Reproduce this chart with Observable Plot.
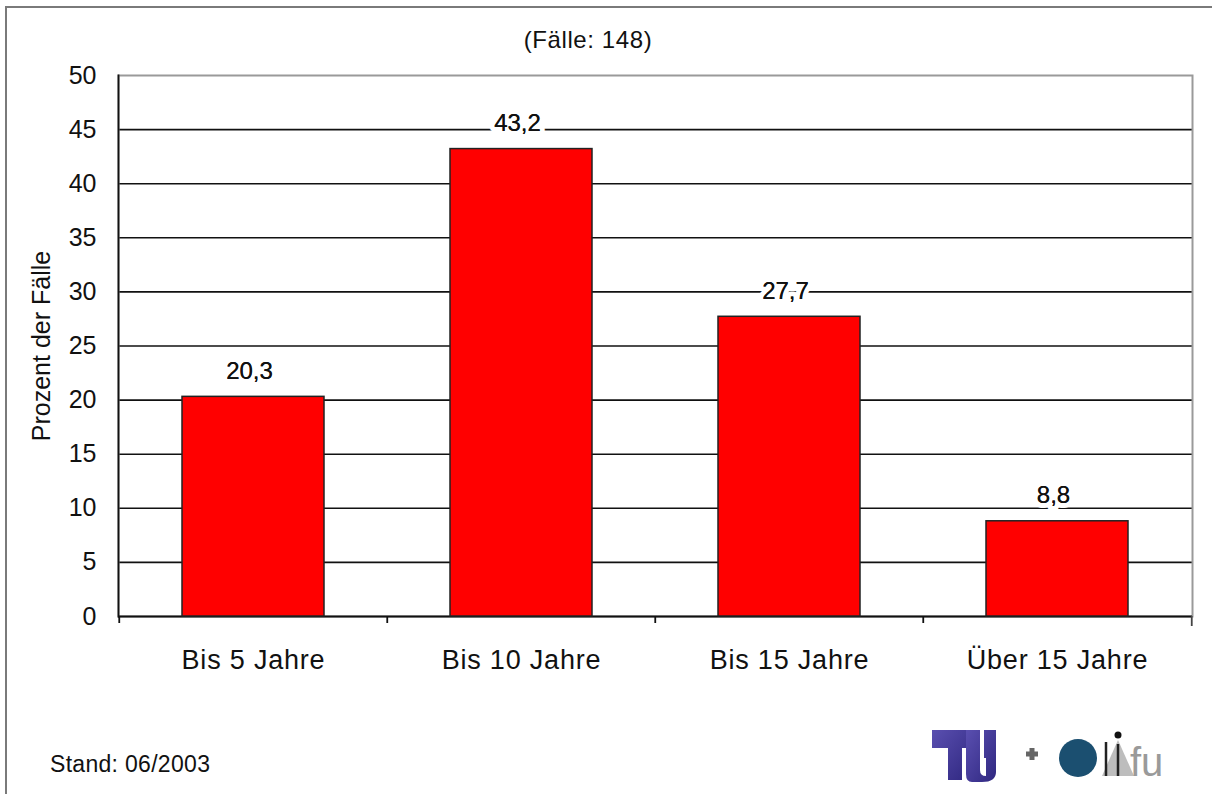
<!DOCTYPE html>
<html>
<head>
<meta charset="utf-8">
<script src="https://cdn.jsdelivr.net/npm/d3@7"></script>
<script src="https://cdn.jsdelivr.net/npm/@observablehq/plot@0.6"></script>
<style>
  html, body { margin: 0; padding: 0; background: #fff; overflow: hidden; }
  #wrap { position: relative; width: 1212px; height: 794px; overflow: hidden; background: #fff;
          font-family: "Liberation Sans", Arial, sans-serif; color: #111; }
  #btop { position: absolute; left: 5px; top: 6px; width: 1207px; height: 2px; background: #7a7a7a; }
  #bleft { position: absolute; left: 5px; top: 6px; width: 2px; height: 788px; background: #7a7a7a; }
  #chart { position: absolute; left: 0; top: 0; width: 1212px; height: 794px; overflow: hidden; }
  #chart svg { display: block; }
  #title { position: absolute; left: 0; width: 1176px; top: 26px; text-align: center; font-size: 24px; letter-spacing: 0.6px; }
  #caption { position: absolute; left: 50px; top: 751px; font-size: 23px; letter-spacing: 0.3px; }
  #logo { position: absolute; left: 920px; top: 718px; }
</style>
</head>
<body>
<div id="wrap">
  <div id="chart"></div>
  <div id="btop"></div>
  <div id="bleft"></div>
  <div id="title">(Fälle: 148)</div>
  <div id="caption">Stand: 06/2003</div>
  <svg id="logo" width="270" height="72" viewBox="0 0 270 72">
    <defs>
      <linearGradient id="tu" x1="0" x2="1" y1="0" y2="1">
        <stop offset="0" stop-color="#5a4fb0"/>
        <stop offset="1" stop-color="#2f2780"/>
      </linearGradient>
    </defs>
    <path d="M12 12 H52 V30 H42 V62 H28 V30 H12 Z" fill="url(#tu)"/>
    <path d="M46 12 H60 V52 Q60 58 66 58 V40 H64 V12 H76 V54 Q76 64 62 64 H52 Q46 64 46 56 Z" fill="url(#tu)"/>
    <path d="M106 36 H118 M112 30 V42" stroke="#666" stroke-width="5"/>
    <circle cx="158" cy="40" r="19" fill="#1b4f70"/>
    <polygon points="182,58 198,22 214,58" fill="#bdbdbd"/>
    <line x1="186" y1="24" x2="186" y2="58" stroke="#222" stroke-width="2.5"/>
    <line x1="198" y1="26" x2="198" y2="58" stroke="#222" stroke-width="2.5"/>
    <circle cx="198" cy="17" r="3.5" fill="#111"/>
    <text x="210" y="58" font-size="40" font-family="Liberation Sans, Arial" fill="#9a9a9a">fu</text>
  </svg>
</div>
<script>
const categories = ["Bis 5 Jahre", "Bis 10 Jahre", "Bis 15 Jahre", "Über 15 Jahre"];
const percents = [20.3, 43.2, 27.7, 8.8];
const yTicks = [0, 5, 10, 15, 20, 25, 30, 35, 40, 45, 50];
const gridTicks = [5, 10, 15, 20, 25, 30, 35, 40, 45];
const yLabel = "Prozent der Fälle";

const data = categories.map((c, i) => ({category: c, value: percents[i]}));

const W = 1212, H = 794, mL = 118, mR = 20, mT = 75, mB = 178;
const step = (W - mL - mR) / categories.length;
const fmt = v => v.toFixed(1).replace(".", ",");

const chart = Plot.plot({
  width: W,
  height: H,
  marginLeft: mL,
  marginRight: mR,
  marginTop: mT,
  marginBottom: mB,
  style: {fontFamily: "Liberation Sans, Arial, sans-serif", color: "#111", background: "white"},
  x: {domain: categories, paddingInner: 0.47, paddingOuter: 0.235, label: null},
  y: {domain: [0, 50], label: null},
  marks: [
    Plot.gridY(gridTicks, {stroke: "#111", strokeOpacity: 1, strokeWidth: 1.6}),
    Plot.frame({stroke: "#9a9a9a", strokeWidth: 2}),
    Plot.frame({anchor: "left", stroke: "#111", strokeWidth: 1.8}),
    Plot.ruleY([0], {stroke: "#111", strokeWidth: 1.8}),
    Plot.axisY({ticks: yTicks, tickSize: 0, tickPadding: 22, fontSize: 25, tickFormat: d => d, label: null}),
    Plot.axisY({ticks: [], fontSize: 25, label: yLabel, labelAnchor: "center", labelArrow: "none", labelOffset: 86}),
    Plot.axisX({tickSize: 0, tickPadding: 33, fontSize: 27, label: null}),
    Plot.axisX({tickSize: 7, tickFormat: () => "", dx: -step / 2, stroke: "#111", strokeWidth: 1.8, label: null}),
    Plot.axisX({ticks: [categories[categories.length - 1]], tickSize: 10, tickFormat: () => "", dx: step / 2, stroke: "#444", strokeWidth: 1.8, label: null}),
    Plot.barY(data, {x: "category", y: "value", fill: "#ff0000", stroke: "#222", strokeWidth: 1.5}),
    Plot.text(data, {x: "category", y: "value", text: d => fmt(d.value), dy: -18, dx: -4, lineAnchor: "bottom",
                     fontSize: 24, fill: "#111", stroke: "white", strokeWidth: 10}),
    Plot.text(data, {x: "category", y: "value", text: d => fmt(d.value), dy: -18, dx: -4, lineAnchor: "bottom",
                     fontSize: 24, fill: "#111"})
  ]
});
document.getElementById("chart").appendChild(chart);
d3.select(chart).selectAll("g[aria-label='x-axis tick label'] text").style("letter-spacing", "0.8px");
</script>
</body>
</html>
